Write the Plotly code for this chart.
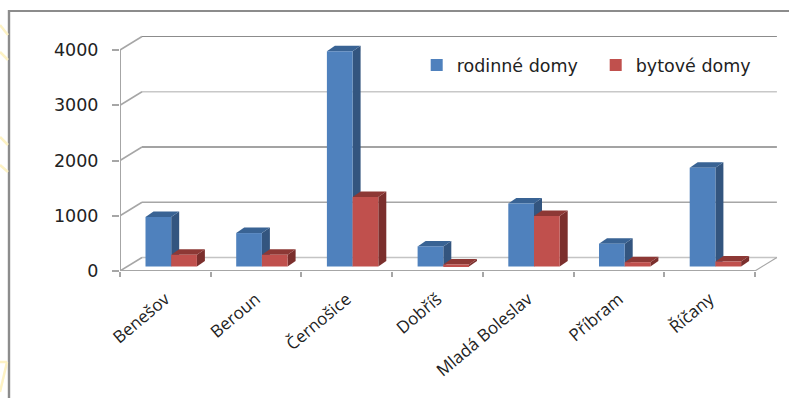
import plotly.graph_objects as go

categories = ["Benešov", "Beroun", "Černošice", "Dobříš", "Mladá Boleslav", "Příbram", "Říčany"]
rodinne_domy = [895, 605, 3896, 364, 1140, 413, 1787]
bytove_domy = [212, 212, 1260, 36, 915, 78, 90]
y_ticks = [0, 1000, 2000, 3000, 4000]

W, H = 789, 398
L, B = 120, 127                   # margins: the front axis corner
SLOT_PX = 90.7                    # width of one category
PX_PER_UNIT = 55.25 / 1000        # vertical scale
ux = 1 / SLOT_PX                  # x data units per pixel
uy = 1 / PX_PER_UNIT              # y data units per pixel

BAR_W = 25.7 * ux
BAR_START = 25.5 * ux
BASE = 4.5 * uy                   # bars stand on the floor, inside the axis corner
BAR_DX, BAR_DY = 8 * ux, 5.5 * uy # depth of each bar
BACK_DX, BACK_DY = 22 * ux, 13.5 * uy  # depth of the chart walls
N = len(categories)

BLUE, BLUE_TOP, BLUE_SIDE = "#4f81bd", "#396394", "#33557f"
RED, RED_TOP, RED_SIDE = "#c0504d", "#8d3835", "#7b2f2d"
GRID_COLORS = ["#c4c4c4", "#a6a6a6", "#858585", "#c8c8c8", "#8c8c8c"]
GRID_WIDTHS = [1.5, 1.5, 1.5, 1.5, 1.2]
AXIS = "#a6a6a6"


def seg(x0, y0, x1, y1, color, width):
    return dict(type="line", xref="x", yref="y", x0=x0, y0=y0, x1=x1, y1=y1,
                line=dict(color=color, width=width), layer="below")


def poly(points, color):
    path = "M" + "L".join(f"{x},{y}" for x, y in points) + "Z"
    return dict(type="path", xref="x", yref="y", path=path, fillcolor=color,
                line=dict(width=0), layer="below")


shapes = []
for tick, col, wd in zip(y_ticks, GRID_COLORS, GRID_WIDTHS):
    shapes.append(seg(BACK_DX, tick + BACK_DY, N + BACK_DX, tick + BACK_DY, col, wd))
    shapes.append(seg(0, tick, BACK_DX, tick + BACK_DY, AXIS, 1.5))
# floor edges and front axis lines
shapes.append(seg(0, 0, N, 0, AXIS, 2))
shapes.append(seg(N, 0, N + BACK_DX, BACK_DY, AXIS, 1.2))
shapes.append(seg(0, 0, 0, y_ticks[-1], AXIS, 2))

for i in range(N):
    for k, (vals, top, side) in enumerate([(rodinne_domy, BLUE_TOP, BLUE_SIDE),
                                           (bytove_domy, RED_TOP, RED_SIDE)]):
        x0 = i + BAR_START + k * BAR_W
        x1 = x0 + BAR_W
        y1 = BASE + vals[i]
        shapes.append(poly([(x1, BASE), (x1 + BAR_DX, BASE + BAR_DY),
                            (x1 + BAR_DX, y1 + BAR_DY), (x1, y1)], side))
        shapes.append(poly([(x0, y1), (x0 + BAR_DX, y1 + BAR_DY),
                            (x1 + BAR_DX, y1 + BAR_DY), (x1, y1)], top))

# picture frame and the pale decoration showing behind it at the left edge
fx = lambda px: (px - L) / (W - L)
fy = lambda py: (H - B - py) / (H - B)
shapes.append(dict(type="line", xref="paper", yref="paper", x0=fx(9), x1=1, y0=fy(11), y1=fy(11),
                   line=dict(color="#8c8c8c", width=2.2)))
shapes.append(dict(type="line", xref="paper", yref="paper", x0=fx(9), x1=fx(9), y0=fy(10), y1=fy(398),
                   line=dict(color="#8c8c8c", width=2.4)))
for a, b, c, d in [(0, 25, 8, 35), (0, 52, 8, 60), (0, 137, 8, 145), (0, 165, 8, 172),
                   (0, 392, 7, 362), (0, 362, 7, 362)]:
    shapes.append(dict(type="line", xref="paper", yref="paper", x0=fx(a), x1=fx(c), y0=fy(b), y1=fy(d),
                       line=dict(color="#fdf2c4", width=2.5)))

xs = [i for i in range(N)]
fig = go.Figure()
fig.add_bar(name="rodinné domy", x=xs, y=rodinne_domy, base=BASE, width=BAR_W,
            offset=BAR_START, marker=dict(color=BLUE, line=dict(width=0)))
fig.add_bar(name="bytové domy", x=xs, y=bytove_domy, base=BASE, width=BAR_W,
            offset=BAR_START + BAR_W, marker=dict(color=RED, line=dict(width=0)))

fig.update_layout(
    width=W, height=H, margin=dict(l=L, r=0, t=0, b=B, autoexpand=False),
    paper_bgcolor="white", plot_bgcolor="rgba(0,0,0,0)", barmode="overlay",
    shapes=shapes, showlegend=True,
    font=dict(family="Open Sans", color="#222222", size=14),
    legend=dict(orientation="h", x=0.4435, y=0.76, xanchor="left", yanchor="middle",
                entrywidth=134, entrywidthmode="pixels", bgcolor="rgba(0,0,0,0)",
                font=dict(family="DejaVu Sans", size=17.5, color="#222222"), itemwidth=30),
    xaxis=dict(range=[0, (W - L) / SLOT_PX], tickmode="array",
               tickvals=[i + 0.5 for i in range(N)], ticktext=categories,
               tickangle=-40, ticks="", showgrid=False, zeroline=False, showline=False,
               ticklabelstandoff=14, tickfont=dict(size=17),
               minor=dict(tickmode="array", tickvals=list(range(N + 1)), ticks="outside",
                          ticklen=5, tickwidth=1.5, tickcolor=AXIS, showgrid=False)),
    yaxis=dict(range=[0, (H - B) * uy], tickmode="array", tickvals=y_ticks,
               ticktext=[str(t) for t in y_ticks], ticks="outside", ticklen=7, tickwidth=2,
               tickcolor=AXIS, showgrid=False, zeroline=False, showline=False,
               ticklabelstandoff=10, tickfont=dict(family="DejaVu Sans", size=17.5)),
)
fig.write_html("out.html", config=dict(displayModeBar=False),
               post_script="document.body.style.margin='0';")
